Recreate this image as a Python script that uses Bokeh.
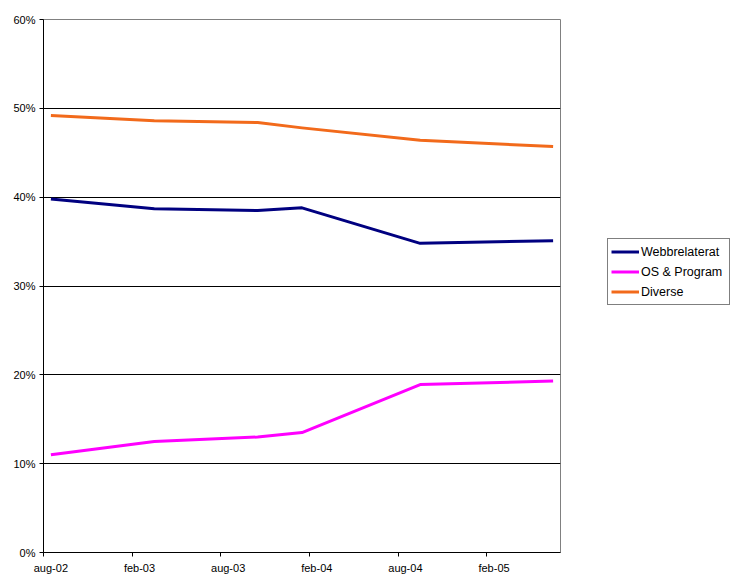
import pandas as pd
from bokeh.plotting import figure
from bokeh.layouts import row
from bokeh.models import (Range1d, FixedTicker, LinearAxis, Legend, LegendItem,
                          PrintfTickFormatter, ColumnDataSource)
from bokeh.embed import file_html
from bokeh.resources import INLINE

# ---- data ----
months = ["2002-08", "2003-03", "2003-10", "2004-01", "2004-09", "2005-06"]
webb = [39.8, 38.7, 38.5, 38.8, 34.8, 35.1]
os_prog = [11.0, 12.5, 13.0, 13.5, 18.9, 19.3]
diverse = [49.2, 48.6, 48.4, 47.8, 46.4, 45.7]
series_names = ["Webbrelaterat", "OS & Program", "Diverse"]
series_colors = ["#000080", "#FF00FF", "#F26A1B"]

tick_months = ["2002-08", "2003-02", "2003-08", "2004-02", "2004-08", "2005-02"]
tick_labels = ["aug-02", "feb-03", "aug-03", "feb-04", "aug-04", "feb-05"]
axis_first = "2002-08"
axis_last = "2005-06"
y_ticks = [0, 10, 20, 30, 40, 50, 60]


def midx(s):
    y, m = map(int, s.split("-"))
    y0, m0 = map(int, axis_first.split("-"))
    return (y - y0) * 12 + (m - m0)


x = [midx(m) + 0.5 for m in months]
src = ColumnDataSource(dict(x=x, webb=webb, os_prog=os_prog, diverse=diverse))
cols = ["webb", "os_prog", "diverse"]

H = 576
p = figure(width=561, height=H, output_backend="svg", toolbar_location=None,
           x_range=Range1d(0, midx(axis_last) + 1), y_range=Range1d(0, 60),
           x_axis_location=None)
p.min_border_left = 43
p.min_border_top = 19
p.min_border_right = 1
p.min_border_bottom = 24
p.background_fill_color = "white"
p.border_fill_color = "white"
p.outline_line_color = "#808080"
p.outline_line_width = 1

FONT = "Liberation Sans"

# y axis
ya = p.yaxis[0]
ya.ticker = FixedTicker(ticks=y_ticks)
ya.formatter = PrintfTickFormatter(format="%d%%")
ya.minor_tick_line_color = None
ya.major_tick_in = 0
ya.major_tick_out = 4
ya.major_label_standoff = 4
ya.axis_line_color = "black"
ya.major_tick_line_color = "black"
ya.major_label_text_font = FONT
ya.major_label_text_font_size = "11px"
ya.major_label_text_color = "black"

p.ygrid.ticker = FixedTicker(ticks=y_ticks[1:-1])
p.ygrid.grid_line_color = "black"
p.ygrid.grid_line_width = 1
p.xgrid.grid_line_color = None
p.xgrid.visible = False

# x axis: ticks at month boundaries
tick_pos = [midx(m) for m in tick_months]
xa_ticks = LinearAxis(ticker=FixedTicker(ticks=tick_pos),
                      major_label_overrides={t: "" for t in tick_pos})
xa_ticks.minor_tick_line_color = None
xa_ticks.major_tick_in = 0
xa_ticks.major_tick_out = 4
xa_ticks.major_label_standoff = 0
xa_ticks.major_label_text_font_size = "1px"
xa_ticks.axis_line_color = "black"
xa_ticks.major_tick_line_color = "black"
p.add_layout(xa_ticks, "below")

# x axis: labels centred on the month
lab_pos = [midx(m) + 0.5 for m in tick_months]
xa_labels = LinearAxis(ticker=FixedTicker(ticks=lab_pos),
                       major_label_overrides={t: l for t, l in zip(lab_pos, tick_labels)})
xa_labels.axis_line_color = None
xa_labels.major_tick_line_color = None
xa_labels.minor_tick_line_color = None
xa_labels.major_tick_in = 0
xa_labels.major_tick_out = 0
xa_labels.major_label_standoff = 5
xa_labels.major_label_text_font = FONT
xa_labels.major_label_text_font_size = "11px"
xa_labels.major_label_text_color = "black"
p.add_layout(xa_labels, "below")

for col, color in zip(cols, series_colors):
    p.line("x", col, source=src, line_color=color, line_width=3, line_join="round")

# ---- legend panel (separate figure to the right; its ranges keep the lines out of view) ----
pl = figure(width=170, height=H, output_backend="svg", toolbar_location=None,
            x_range=Range1d(1000, 1001), y_range=Range1d(1000, 1001),
            x_axis_location=None, y_axis_location=None)
pl.min_border = 0
pl.outline_line_color = None
pl.xgrid.visible = False
pl.ygrid.visible = False
pl.background_fill_color = "white"
pl.border_fill_color = "white"
leg_renderers = [pl.line("x", col, source=src, line_color=c, line_width=3)
                 for col, c in zip(cols, series_colors)]

legend = Legend(items=[LegendItem(label=n, renderers=[r]) for n, r in zip(series_names, leg_renderers)],
                location=(46, H - 301 - 28))
legend.border_line_color = "black"
legend.border_line_width = 1
legend.background_fill_color = "white"
legend.background_fill_alpha = 1
legend.padding = 3
legend.spacing = 1
legend.margin = 0
legend.glyph_width = 28
legend.glyph_height = 19
legend.label_height = 19
legend.label_width = 85
legend.label_standoff = 2
legend.label_text_font = FONT
legend.label_text_font_size = "12.5px"
legend.label_text_color = "black"
pl.add_layout(legend)

layout = row(p, pl, spacing=0)
open("out.html", "w").write(file_html(layout, INLINE))
